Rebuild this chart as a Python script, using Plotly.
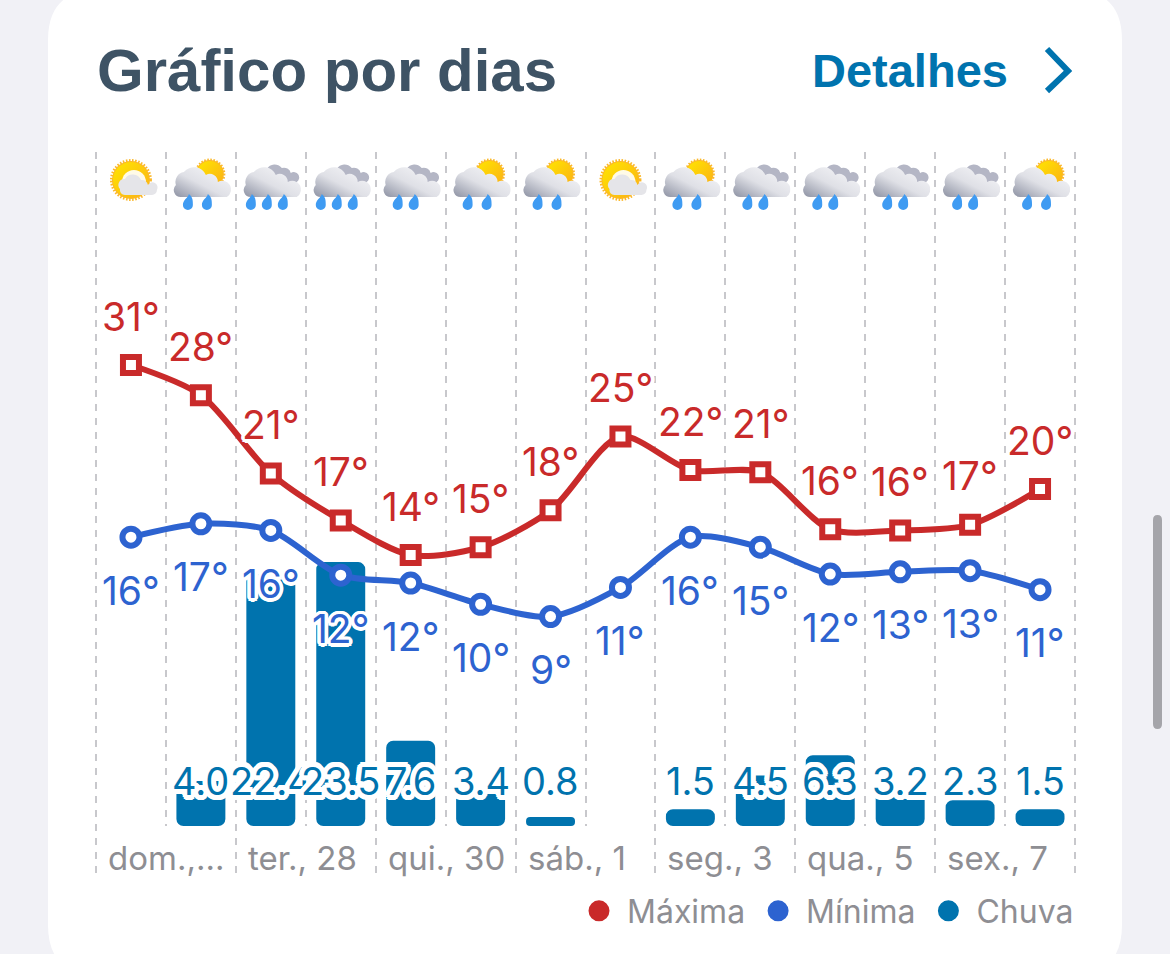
import base64
import math
import plotly.graph_objects as go

# values
days = list(range(14))
max_temp = [31.0, 28.3, 21.3, 17.1, 14.0, 14.7, 18.0, 24.6, 21.6, 21.4, 16.3, 16.2, 16.7, 19.9]
min_temp = [15.6, 16.8, 16.2, 12.2, 11.5, 9.6, 8.5, 11.1, 15.6, 14.7, 12.3, 12.5, 12.6, 10.9]
max_labels = ["31°", "28°", "21°", "17°", "14°", "15°", "18°", "25°", "22°", "21°", "16°", "16°", "17°", "20°"]
min_labels = ["16°", "17°", "16°", "12°", "12°", "10°", "9°", "11°", "16°", "15°", "12°", "13°", "13°", "11°"]
rain = [0, 4.0, 22.4, 23.5, 7.6, 3.4, 0.8, 0, 1.5, 4.5, 6.3, 3.2, 2.3, 1.5]
date_pos = [0, 2, 4, 6, 8, 10, 12]
date_labels = ["dom.,...", "ter., 28", "qui., 30", "sáb., 1", "seg., 3", "qua., 5", "sex., 7"]
icons = ["sun", "sunrain", "rain3", "rain3", "rain2", "sunrain", "sunrain", "sun",
         "sunrain", "rain2", "rain2", "rain2", "rain2", "sunrain"]

RED = "#c92a2a"
BLUE = "#2d63d0"
RAIN = "#0073ae"
GREY = "#8e8e93"
W, H = 1170, 954
TEXT_FONT = "Inter, Roboto, sans-serif"


def halo(r):
  # white outline round a text, as a ring of text shadows
  parts = []
  for k in range(16):
    a = k * math.pi / 8
    parts.append(f"{r * math.cos(a):.1f}px {r * math.sin(a):.1f}px 0 #fff")
  return ", ".join(parts)


def px(v):
  return v / W


def py(v):
  return 1 - v / H


def icon_uri(kind):
  defs = (
    '<defs><linearGradient id="c" x1="0" y1="1" x2="1" y2="0">'
    '<stop offset="0" stop-color="#8d92a3"/><stop offset=".45" stop-color="#dfe0e6"/>'
    '<stop offset="1" stop-color="#fafafc"/></linearGradient>'
    '<linearGradient id="s" x1="0" y1="0" x2="1" y2="1">'
    '<stop offset="0" stop-color="#ffe600"/><stop offset="1" stop-color="#fbb016"/></linearGradient></defs>'
  )
  cloud = '<path d="M10 39a7 7 0 0 1-5-12a10 10 0 0 1 8-13a13 13 0 0 1 22 3a8 8 0 0 1 12 7a8 8 0 0 1 9 15z" fill="url(#c)"/>'
  back = '<path d="M18 24a8 8 0 0 1 8-13a9 9 0 0 1 15-1a7 7 0 0 1 9 5a5 5 0 0 1 6 9z" fill="#b4b6c5"/>'
  drop = '<path d="M{x} 36c-1 4-6 6-6 11a5 5 0 0 0 10 0c0-4 0-8-4-11z" fill="#3f9bf2"/>'
  if kind == "sun":
    body = (
      '<circle cx="30" cy="22" r="19" fill="#fbb82a" stroke="#fbb82a" stroke-width="4" stroke-dasharray="1.5 1.5"/>'
      '<circle cx="30" cy="22" r="18" fill="url(#s)"/>'
      '<circle cx="33" cy="24" r="12" fill="#fff" opacity=".9"/>'
      '<path d="M24 37a5 5 0 0 1-5-6a6 6 0 0 1 5-10a9 9 0 0 1 16 1a6 6 0 0 1 7 5a5 5 0 0 1 9 5a5 5 0 0 1-5 5z" fill="#e5e5e9"/>'
    )
  elif kind == "sunrain":
    body = (
      '<circle cx="39" cy="16" r="14" fill="#fbb82a" stroke="#fbb82a" stroke-width="3" stroke-dasharray="1.5 1.5"/>'
      '<circle cx="39" cy="16" r="13" fill="url(#s)"/>'
      + cloud + drop.format(x=18) + drop.format(x=37)
    )
  elif kind == "rain3":
    body = back + cloud + drop.format(x=11) + drop.format(x=27) + drop.format(x=43)
  else:
    body = back + cloud + drop.format(x=18) + drop.format(x=34)
  svg = f'<svg xmlns="http://www.w3.org/2000/svg" width="60" height="52" viewBox="0 0 60 52">{defs}{body}</svg>'
  return "data:image/svg+xml;base64," + base64.b64encode(svg.encode()).decode()


fig = go.Figure()

# base=0 makes plotly round both ends of the bar
fig.add_trace(go.Bar(x=days, y=rain, base=[0] * len(rain), width=0.7, marker=dict(color=RAIN, cornerradius=7, line_width=0),
                     showlegend=False, xaxis="x", yaxis="y"))

fig.add_trace(go.Scatter(x=days, y=max_temp, xaxis="x2", yaxis="y2", mode="lines+markers", showlegend=False,
                         line=dict(color=RED, width=6, shape="spline", smoothing=0.8),
                         marker=dict(symbol="square", size=16, color="#fff", line=dict(color=RED, width=6))))
fig.add_trace(go.Scatter(x=days, y=min_temp, xaxis="x2", yaxis="y2", mode="lines+markers", showlegend=False,
                         line=dict(color=BLUE, width=6, shape="spline", smoothing=0.8),
                         marker=dict(symbol="circle", size=17, color="#fff", line=dict(color=BLUE, width=6))))

# legend entries
for name, color in [("Máxima", RED), ("Mínima", BLUE), ("Chuva", RAIN)]:
  fig.add_trace(go.Scatter(x=[None], y=[None], xaxis="x2", yaxis="y2", mode="markers", name=name,
                           marker=dict(symbol="circle", size=16, color=color, line=dict(color=color, width=5))))

notes = []
for i in days:
  notes.append(dict(x=i, y=max_temp[i], xref="x2", yref="y2", text=max_labels[i], showarrow=False, yshift=49,
                    font=dict(family=TEXT_FONT, size=39, color=RED, shadow=halo(3.5))))
  notes.append(dict(x=i, y=min_temp[i], xref="x2", yref="y2", text=min_labels[i], showarrow=False, yshift=-53,
                    font=dict(family=TEXT_FONT, size=39, color=BLUE, shadow=halo(3.5))))
for i in days:
  if rain[i] > 0:
    notes.append(dict(x=i, y=py(781), xref="x", yref="paper", text=f"{rain[i]:.1f}", showarrow=False, yanchor="middle",
                      font=dict(family=TEXT_FONT, size=38, color=RAIN, shadow=halo(5))))

for p, label in zip(date_pos, date_labels):
  notes.append(dict(x=p - 0.5, y=py(858), xref="x", yref="paper", text=label, showarrow=False, xanchor="left", yanchor="middle", xshift=10,
                    font=dict(family=TEXT_FONT, size=33, color=GREY)))

notes.append(dict(x=px(95), y=py(70), xref="paper", yref="paper", text="<b>Gráfico por dias</b>", showarrow=False, xanchor="left", yanchor="middle",
                  font=dict(family="Liberation Sans", size=60, color="#3e5365")))
notes.append(dict(x=px(1010), y=py(70), xref="paper", yref="paper", text="<b>Detalhes</b>", showarrow=False, xanchor="right", yanchor="middle",
                  font=dict(family="Liberation Sans", size=47, color=RAIN)))

card = "M 48 40 Q 48 -10 98 -10 L 1072 -10 Q 1122 -10 1122 40 L 1122 925 Q 1122 975 1072 975 L 98 975 Q 48 975 48 925 Z"


def to_paper(path):
  # pixel path -> paper coordinates
  out = []
  is_x = True
  for tok in path.split():
    if tok.isalpha():
      out.append(tok)
      is_x = True
    else:
      v = float(tok)
      out.append(f"{px(v):.5f}" if is_x else f"{py(v):.5f}")
      is_x = not is_x
  return " ".join(out)


shapes = [
  dict(type="path", xref="paper", yref="paper", layer="below", path=to_paper(card), fillcolor="#fff", line_width=0),
  dict(type="path", xref="paper", yref="paper", layer="below",
       path=to_paper("M 1153 520 Q 1153 515 1157.5 515 Q 1162 515 1162 520 L 1162 724 Q 1162 729 1157.5 729 Q 1153 729 1153 724 Z"),
       fillcolor="#a5a5aa", line_width=0),
  dict(type="path", xref="paper", yref="paper",
       path=to_paper("M 1047 49 L 1068 71 L 1047 91"), line=dict(color=RAIN, width=6)),
]

images = [dict(source=icon_uri(k), x=i, y=py(184), xref="x", yref="paper", sizex=60 / 70, sizey=52 / H,
               xanchor="center", yanchor="middle", sizing="contain", layer="above") for i, k in enumerate(icons)]

# short gridlines stop at the bars' baseline, long ones run past the date labels
# 3px of slack each side, plotly drops gridlines sitting right on the plot edge
slack = 3 / (979 / 14)
grid = dict(showticklabels=False, ticks="", showgrid=True, gridcolor="#c8c8cc", gridwidth=2, griddash="7px,7px",
            zeroline=False, showline=False, range=[-0.5 - slack, 13.5 + slack], domain=[px(93), px(1078)], tickmode="array")

fig.update_layout(
  width=W, height=H, autosize=False,
  margin=dict(l=0, r=0, t=0, b=0),
  paper_bgcolor="#f1f1f6", plot_bgcolor="rgba(0,0,0,0)",
  barmode="overlay", hovermode=False,
  xaxis=dict(tickvals=[d + 0.5 for d in date_pos], **grid),
  xaxis2=dict(tickvals=[d - 0.5 for d in date_pos] + [13.5], anchor="y2", **grid),
  yaxis=dict(domain=[py(826), py(152)], range=[0, 674 / 11.23], visible=False),
  yaxis2=dict(domain=[py(877), py(152)], anchor="x2", range=[31 - 512 / 11.18, 31 + 213 / 11.18], visible=False),
  legend=dict(orientation="h", x=px(1079), xanchor="right", y=py(911), yanchor="middle", itemwidth=46,
              font=dict(family=TEXT_FONT, size=32, color=GREY), bgcolor="rgba(0,0,0,0)", itemclick=False, itemdoubleclick=False),
  annotations=notes, shapes=shapes, images=images,
)

# page margin would shift the figure by 8px
fig.write_html("out.html", config=dict(displayModeBar=False),
               post_script="document.body.style.margin='0';document.body.style.overflow='hidden';")
